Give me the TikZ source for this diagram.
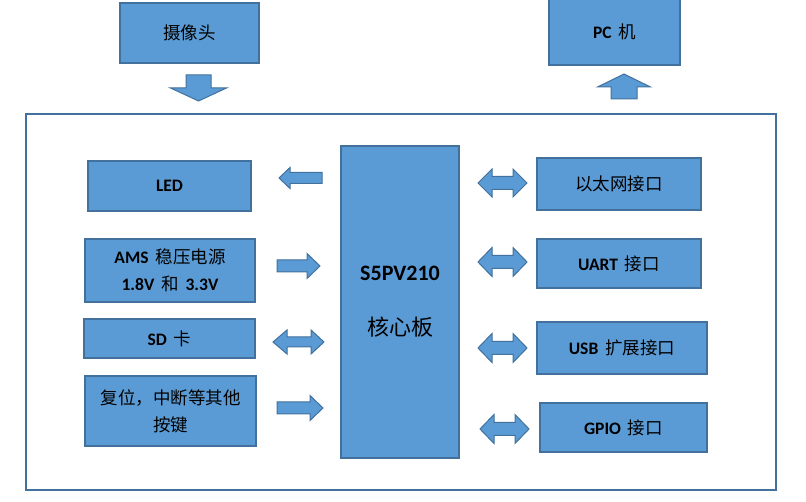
\documentclass[tikz,border=0pt]{standalone}
\usepackage{fontspec}
\setmainfont{Carlito}
\newfontfamily\cjkfam{Noto Sans CJK SC}
\newcommand\zh{\cjkfam\mdseries}
\definecolor{boxfill}{HTML}{5B9BD5}
\definecolor{boxline}{HTML}{41719C}
\tikzset{
  box/.style={draw=boxline, fill=boxfill, line width=1.6pt, inner sep=0pt, align=center,
    font=\fontsize{17.5}{27}\selectfont\bfseries, text=black},
  blockarrow/.style={draw=boxline, fill=boxfill, line width=1pt, line join=miter},
  frame/.style={draw=boxline, line width=1.6pt}
}
% horizontal single arrow: tail x, head base x, tip x, yc, shaft half, head half
\newcommand\blkH[6]{\filldraw[blockarrow] (#1,#4-#5) -- (#2,#4-#5) -- (#2,#4-#6) -- (#3,#4) -- (#2,#4+#6) -- (#2,#4+#5) -- (#1,#4+#5) -- cycle;}
% horizontal double arrow: x1, base1, base2, x2, yc, shaft half, head half
\newcommand\blkD[7]{\filldraw[blockarrow] (#1,#5) -- (#2,#5-#7) -- (#2,#5-#6) -- (#3,#5-#6) -- (#3,#5-#7) -- (#4,#5) -- (#3,#5+#7) -- (#3,#5+#6) -- (#2,#5+#6) -- (#2,#5+#7) -- cycle;}
% vertical single arrow: xc, tail y, head base y, tip y, shaft half, head half
\newcommand\blkV[6]{\filldraw[blockarrow] (#1-#5,#2) -- (#1-#5,#3) -- (#1-#6,#3) -- (#1,#4) -- (#1+#6,#3) -- (#1+#5,#3) -- (#1+#5,#2) -- cycle;}
\begin{document}
\begin{tikzpicture}[x=1pt,y=-1pt]
\useasboundingbox (0,0) rectangle (806,502);
% outer frame
\draw[frame] (26,114) rectangle (776,490);
% top boxes
\node[box, minimum width=139pt, minimum height=60pt] (cam) at (189.5,33) {\zh 摄像头};
\node[box, minimum width=131pt, minimum height=67pt] (pc) at (614.5,31.5) {PC\, {\zh 机}};
% left boxes
\node[box, minimum width=163pt, minimum height=50pt] (led) at (169.5,186) {LED};
\node[box, minimum width=170pt, minimum height=63pt] (ams) at (170,270.5) {AMS\, {\zh 稳压电源}\\1.8V\, {\zh 和}\, 3.3V};
\node[box, minimum width=171pt, minimum height=39pt] (sd) at (169.5,338.5) {SD\, {\zh 卡}};
\node[box, minimum width=171pt, minimum height=70pt] (rst) at (170.5,411) {{\zh 复位，中断等其他}\\{\zh 按键}};
% core
\node[box, minimum width=118pt, minimum height=312pt, font=\fontsize{22}{55}\selectfont\bfseries] (core) at (400,302) {S5PV210\\{\zh 核心板}};
% right boxes
\node[box, minimum width=164pt, minimum height=52pt] (eth) at (619,184) {\zh 以太网接口};
\node[box, minimum width=164pt, minimum height=49pt] (uart) at (619,263.5) {UART\, {\zh 接口}};
\node[box, minimum width=170pt, minimum height=52pt] (usb) at (622,348) {USB\, {\zh 扩展接口}};
\node[box, minimum width=167pt, minimum height=49pt] (gpio) at (623.5,427.5) {GPIO\, {\zh 接口}};
% block arrows
\blkV{198.5}{75}{88}{101}{12.5}{28}
\blkV{624}{99}{87}{74}{13}{26.5}
\blkH{322}{290}{279}{178}{5.5}{10.5}
\blkH{277}{307}{320}{266}{6}{12.5}
\blkD{273}{287}{311}{324}{342}{5}{12}
\blkH{277}{310}{323}{408}{6}{12.5}
\blkD{478}{492}{513}{527}{183}{6.5}{14}
\blkD{478}{492}{513}{527}{262}{6.5}{14.5}
\blkD{478}{492}{513}{527}{348}{6.5}{14.5}
\blkD{480}{494}{515}{529}{429}{6.5}{14.5}
\end{tikzpicture}
\end{document}
